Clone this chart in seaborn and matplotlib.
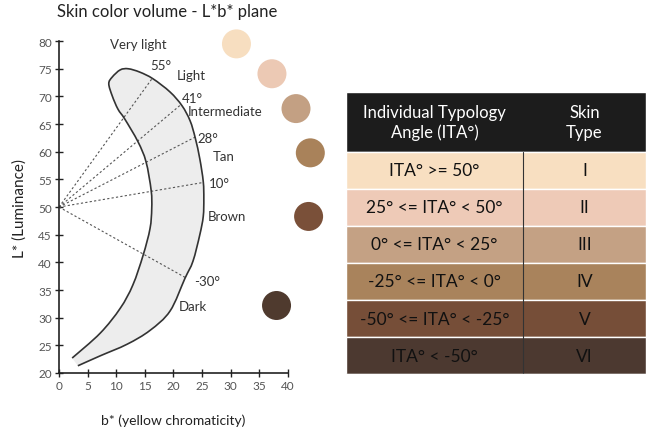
import numpy as np
import matplotlib
matplotlib.use("Agg")
import matplotlib.pyplot as plt
from matplotlib.path import Path
from matplotlib.patches import PathPatch
import seaborn as sns

# crescent outline (b*, L*)
outer_b = [8.7, 9.3, 10.7, 12.1, 14.1, 16.4, 19.4, 21.5, 22.9, 23.8, 24.6, 25.2, 25.3,
           25.2, 24.6, 23.4, 22.0, 19.4, 15.9, 11.9, 7.2, 3.3]
outer_L = [72.3, 73.5, 74.8, 75.0, 74.4, 73.2, 70.8, 68.3, 65.6, 62.5, 58.7, 54.6, 51.5,
           48.3, 45.0, 40.2, 37.1, 31.2, 27.7, 25.2, 23.1, 21.3]
inner_b = [8.7, 9.3, 10.3, 11.5, 13.8, 15.2, 16.1, 16.2, 15.9, 14.7, 12.9, 10.7, 7.2, 2.3]
inner_L = [72.3, 70.1, 67.7, 65.9, 61.8, 58.2, 53.0, 49.7, 46.1, 41.3, 35.9, 31.7, 27.2, 22.7]

# ITA boundary angles
ita_angles = [55, 41, 28, 10, -30]

# labels on the chart (text, b*, L*)
labels = ["Very light", "55°", "Light", "41°", "Intermediate", "28°", "Tan",
          "10°", "Brown", "-30°", "Dark"]
label_b = [8.9, 15.9, 20.6, 21.5, 22.5, 24.1, 26.9, 26.2, 25.9, 23.6, 21.0]
label_L = [79.5, 75.7, 73.9, 69.7, 67.4, 62.5, 59.3, 54.4, 48.3, 36.6, 32.1]

# skin colour swatches
swatch_names = ["Very light", "Light", "Intermediate", "Tan", "Brown", "Dark"]
swatch_b = [31.0, 37.2, 41.4, 43.9, 43.6, 38.0]
swatch_L = [79.5, 74.1, 67.8, 59.8, 48.3, 32.2]
swatch_colors = ["#f7dec0", "#ecc9b4", "#c3a083", "#a9825a", "#7a5039", "#4f3a2e"]

# table
ita_ranges = ["ITA° >= 50°", "25° <= ITA° < 50°", "0° <= ITA° < 25°",
              "-25° <= ITA° < 0°", "-50° <= ITA° < -25°", "ITA° < -50°"]
skin_types = ["I", "II", "III", "IV", "V", "VI"]
row_colors = ["#f8dfc1", "#eecab7", "#c4a184", "#a9835c", "#764e38", "#4c3930"]


def smooth_path(pts, closed=False):
    # catmull-rom through the points, drawn as cubic bezier segments
    pts = np.asarray(pts, dtype=float)
    ext = np.vstack([pts[0], pts, pts[-1]])
    verts = [pts[0]]
    codes = [Path.MOVETO]
    for i in range(1, len(ext) - 2):
        p0, p1, p2, p3 = ext[i - 1], ext[i], ext[i + 1], ext[i + 2]
        verts += [p1 + (p2 - p0) / 6, p2 - (p3 - p1) / 6, p2]
        codes += [Path.CURVE4] * 3
    if closed:
        verts.append(pts[0])
        codes.append(Path.CLOSEPOLY)
    return Path(verts, codes)


sns.set_theme(style="white")
plt.rcParams['font.family'] = ['Lato', 'DejaVu Sans']

fig = plt.figure(figsize=(6.46, 4.31), dpi=100)
ax = fig.add_axes([0.0913, 0.1323, 0.3545, 0.770])

# one continuous outline: inner edge bottom -> top -> outer edge bottom
edge = list(zip(inner_b[::-1], inner_L[::-1]))[:-1] + list(zip(outer_b, outer_L))
ax.add_patch(PathPatch(smooth_path(edge, closed=True), facecolor="#ededed",
                       edgecolor="none", zorder=1))
ax.add_patch(PathPatch(smooth_path(edge), facecolor="none", edgecolor="#333333",
                       lw=1.2, zorder=3))

# dashed ITA lines from (0, 50) to the outer edge
ob = np.array(outer_b)
oL = np.array(outer_L) - 50
ang = np.degrees(np.arctan2(oL, ob))
rad = np.hypot(ob, oL)
for a in ita_angles:
    r = np.interp(a, ang[::-1], rad[::-1])
    ax.plot([0, r * np.cos(np.radians(a))], [50, 50 + r * np.sin(np.radians(a))],
            color="#555555", lw=0.8, ls=(0, (2, 2)), zorder=2)

for t, b, L in zip(labels, label_b, label_L):
    ax.text(b, L, t, ha="left", va="center", fontsize=9.5, color="#333333")

sns.scatterplot(x=swatch_b, y=swatch_L, hue=swatch_names, palette=swatch_colors,
                s=436, linewidth=0, legend=False, clip_on=False, zorder=4, ax=ax)

ax.set_xlim(0, 40)
ax.set_ylim(20, 80)
ax.set_xticks(range(0, 41, 5))
ax.set_yticks(range(20, 81, 5))
for s in ["top", "right"]:
    ax.spines[s].set_visible(False)
for s in ["left", "bottom"]:
    ax.spines[s].set_color("#222222")
    ax.spines[s].set_linewidth(1.2)
ax.tick_params(direction="inout", length=6, width=1, color="#222222",
               labelcolor="#555555", labelsize=8.5, left=True, bottom=True, pad=2)
ax.set_xlabel("b* (yellow chromaticity)", fontsize=10, color="#222222", labelpad=16)
ax.set_ylabel("L* (Luminance)", fontsize=11, color="#222222", labelpad=8)
fig.text(167 / 646, 1 - 12 / 431, "Skin color volume - L*b* plane", ha="center",
         va="center", fontsize=12, color="#222222")

# ITA table
tab = fig.add_axes([0.5356, 0.1299, 0.4644, 0.6543])
head_h = 1.62
tab.barh([head_h / 2], [1], height=head_h, left=0, color="#1c1c1c")
rows_y = [head_h + 0.5 + i for i in range(len(ita_ranges))]
tab.barh(rows_y, [1] * len(rows_y), height=1, left=0, color=row_colors)
tab.plot([0.59, 0.59], [head_h, head_h + len(rows_y)], color="#333333", lw=0.8)
tab.plot([0, 1], [head_h + len(rows_y)] * 2, color="#bbbbbb", lw=1)
tab.text(0.295, head_h / 2, "Individual Typology\nAngle (ITA°)", ha="center",
         va="center", color="white", fontsize=12, linespacing=1.3)
tab.text(0.795, head_h / 2, "Skin\nType", ha="center", va="center", color="white",
         fontsize=12, linespacing=1.3)
for y, r, k in zip(rows_y, ita_ranges, skin_types):
    tab.text(0.295, y, r, ha="center", va="center", color="#111111", fontsize=12.5)
    tab.text(0.795, y, k, ha="center", va="center", color="#111111", fontsize=12.5)
tab.set_xlim(0, 1)
tab.set_ylim(head_h + len(rows_y), 0)
tab.axis("off")

fig.savefig("out.png", dpi=100)
